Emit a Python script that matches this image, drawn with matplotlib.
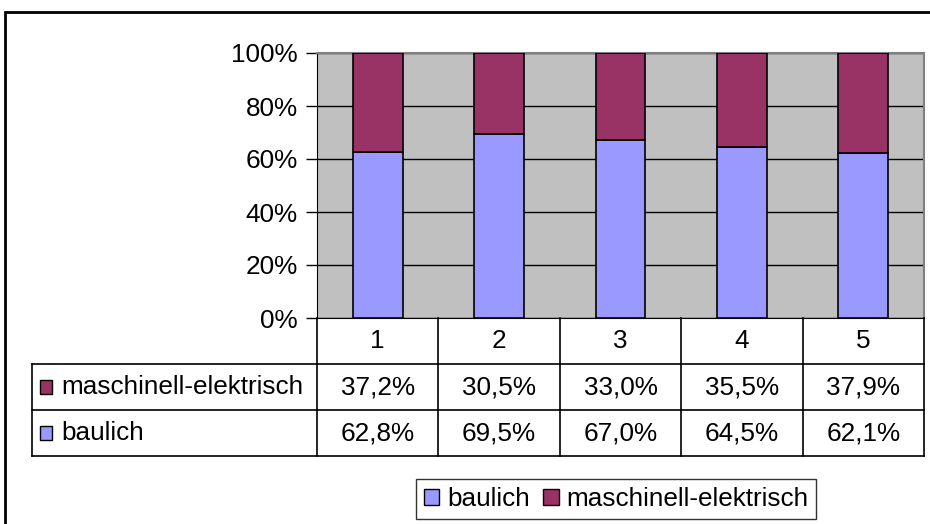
import matplotlib.pyplot as plt
from matplotlib.patches import Rectangle

plt.rcParams['font.family'] = ['Liberation Sans', 'DejaVu Sans']

# data
categories = ['1', '2', '3', '4', '5']
baulich = [62.8, 69.5, 67.0, 64.5, 62.1]
maschinell = [37.2, 30.5, 33.0, 35.5, 37.9]
series_names = ['baulich', 'maschinell-elektrisch']
colors = ['#9999FF', '#993366']
yticks = [0, 20, 40, 60, 80, 100]

W, H = 930, 524
FS = 18.8
fig = plt.figure(figsize=(W / 100, H / 100), dpi=100)

# outer chart border (runs off right and bottom edge)
fig.patches.append(Rectangle((5 / W, -0.1), 1.2, 1 - 12 / H + 0.1, transform=fig.transFigure,
                             fill=False, edgecolor='black', linewidth=2))

# plot area
ax = fig.add_axes([317 / W, 1 - 318 / H, (924 - 317) / W, 265 / H])
ax.set_facecolor('#C0C0C0')
x = range(1, len(categories) + 1)
ax.bar(x, baulich, width=0.41, color=colors[0], edgecolor='black', linewidth=1.2, zorder=3)
ax.bar(x, maschinell, width=0.41, bottom=baulich, color=colors[1], edgecolor='black',
       linewidth=1.2, zorder=3)
ax.set_xlim(0.5, len(categories) + 0.5)
ax.set_ylim(0, 100)
ax.set_yticks(yticks)
ax.set_yticklabels([f'{t}%' for t in yticks], fontsize=FS)
ax.tick_params(axis='y', length=8, width=1, pad=6)
ax.set_xticks([])
ax.yaxis.grid(True, color='black', linewidth=1, zorder=1)
for side in ['top', 'right']:
    ax.spines[side].set_color('#808080')
    ax.spines[side].set_linewidth(1.5)
ax.spines['left'].set_color('black')
ax.spines['bottom'].set_color('black')

# data table below
label_w = (317 - 32) / ((924 - 317) / len(categories))
tx = fig.add_axes([32 / W, 1 - 456 / H, (924 - 32) / W, 138 / H])
tx.set_xlim(0.5 - label_w, len(categories) + 0.5)
tx.set_ylim(0, 3)
tx.axis('off')
lw = 1.2
x0, x1 = 0.5 - label_w, len(categories) + 0.5
for yy in [0, 1, 2]:
    tx.plot([x0, x1], [yy, yy], color='black', lw=lw, clip_on=False)
tx.plot([x0, x0], [0, 2], color='black', lw=lw, clip_on=False)
for i in range(len(categories) + 1):
    tx.plot([0.5 + i, 0.5 + i], [0, 3], color='black', lw=lw, clip_on=False)

rows = [(maschinell, series_names[1], colors[1], 1.5), (baulich, series_names[0], colors[0], 0.5)]
for i, c in enumerate(categories):
    tx.text(i + 1, 2.5, c, ha='center', va='center', fontsize=FS)
for vals, name, col, yc in rows:
    tx.add_patch(Rectangle((x0 + 0.065, yc - 0.15), 0.1, 0.3, facecolor=col,
                           edgecolor='black', lw=1, clip_on=False))
    tx.text(x0 + 0.24, yc, name, ha='left', va='center', fontsize=FS)
    for i, v in enumerate(vals):
        tx.text(i + 1, yc, f'{v:.1f}%'.replace('.', ','), ha='center', va='center', fontsize=FS)

# legend
handles = [Rectangle((0, 0), 1, 1, facecolor=c, edgecolor='black', lw=1) for c in colors]
leg = fig.legend(handles, series_names, loc='center', bbox_to_anchor=(616 / W, 1 - 499 / H),
                 ncol=2, fontsize=FS, frameon=True, fancybox=False, edgecolor='black',
                 handlelength=0.6, handleheight=0.6, handletextpad=0.3, columnspacing=0.5,
                 borderpad=0.3, borderaxespad=0)
leg.get_frame().set_linewidth(1)

fig.savefig('out.png', dpi=100)
